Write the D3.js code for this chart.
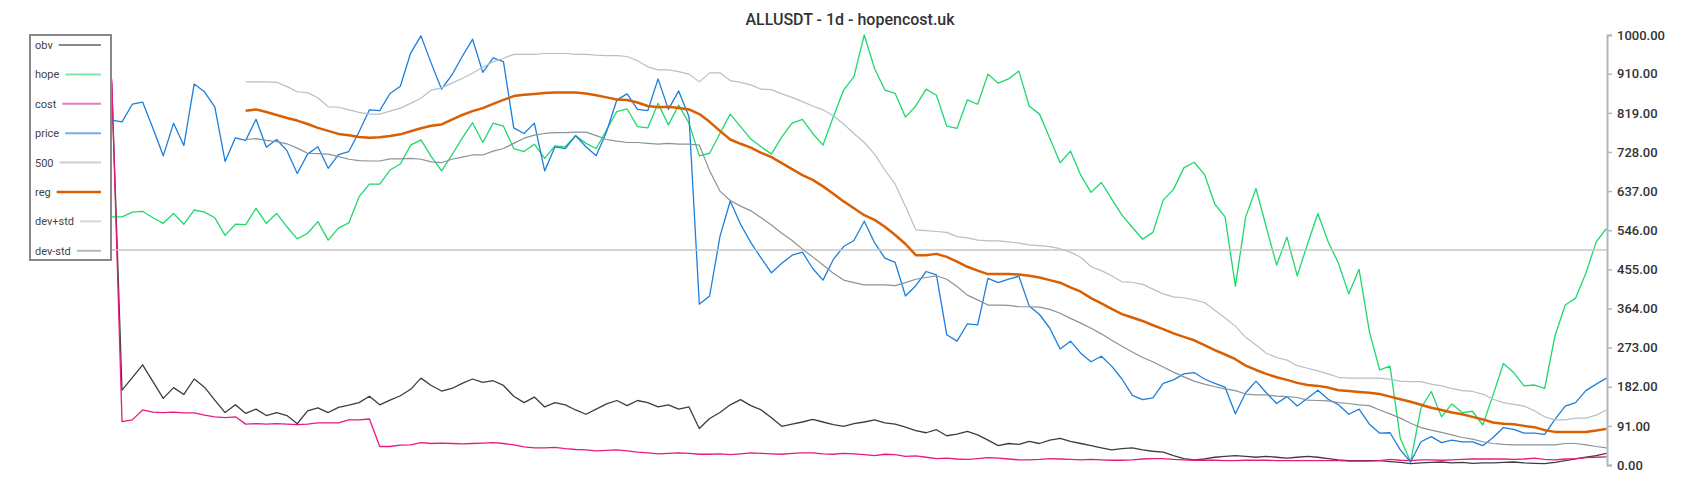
<!DOCTYPE html>
<html>
<head>
<meta charset="utf-8">
<script src="https://cdn.jsdelivr.net/npm/d3@7"></script>
<style>
  body { margin: 0; background: #fff; }
  text { font-family: Roboto, "Noto Sans", sans-serif; }
</style>
</head>
<body>
<div id="chart"></div>
<script>
var width = 1700
var height = 500

// one value per day, 146 days
var obv = [890,174,203,233,194,155,180,164,200,181,151,122,140,120,130,115,122,115,96,126,
  133,122,134,139,145,160,140,151,161,176,202,185,172,178,190,200,192,196,185,160,
  145,158,135,145,140,128,118,130,142,150,138,150,145,135,140,130,135,85,108,122,
  140,152,138,128,110,90,95,100,106,100,94,90,96,100,105,98,95,88,80,75,
  82,68,72,78,70,58,45,50,48,55,50,58,62,55,50,45,40,35,38,40,
  35,32,30,22,15,12,14,18,20,22,20,18,20,18,16,18,20,18,15,12,
  10,10,10,10,8,6,3,5,6,7,5,6,4,5,5,6,7,5,4,3,
  6,10,14,18,22,27]

var hope = [577,577,588,590,575,562,585,560,593,588,575,534,560,559,597,562,585,554,526,539,
  566,523,551,563,624,653,653,686,700,744,756,717,684,721,760,796,750,795,788,736,
  729,746,713,742,740,766,748,736,779,822,828,787,784,841,791,837,795,719,725,771,
  816,787,758,740,723,763,795,804,771,744,810,872,903,1000,922,872,864,809,835,874,
  860,788,783,849,839,909,888,898,916,835,816,760,703,730,674,634,657,619,581,553,
  525,541,616,641,691,704,676,607,577,416,577,643,553,465,530,440,514,585,519,469,
  398,455,310,221,230,62,7,132,171,112,142,122,125,93,163,236,215,184,186,178,
  300,372,388,446,519,550]

var cost = [897,101,105,128,123,122,123,121,121,116,112,110,112,95,96,95,96,95,94,95,
  98,98,98,105,105,107,43,43,46,47,52,50,51,50,49,50,51,52,50,47,
  42,40,40,41,38,36,35,33,34,35,33,30,28,26,27,28,27,25,25,26,
  24,26,28,27,26,25,27,28,28,26,25,27,26,24,22,25,24,20,21,18,
  15,16,14,13,15,17,16,14,12,12,13,15,14,13,12,13,12,11,11,12,
  14,15,15,13,12,11,11,11,10,10,11,11,11,10,10,10,10,10,10,10,
  9,9,9,10,13,11,10,12,12,11,12,13,14,14,14,14,13,14,16,13,
  12,14,15,17,18,19]

var price = [802,798,839,844,783,719,795,743,886,868,833,706,761,755,804,739,757,731,678,723,
  740,690,722,729,775,826,824,864,881,958,998,934,874,907,950,990,913,947,938,784,
  771,795,684,740,736,766,740,719,775,849,863,827,824,898,827,870,810,374,393,531,
  614,560,517,481,447,469,488,495,457,430,478,508,522,567,517,481,471,393,417,450,
  442,303,288,328,326,434,424,432,439,370,350,318,270,288,260,240,253,230,200,162,
  152,156,190,198,212,215,200,190,181,119,168,195,168,143,159,137,155,174,153,140,
  118,130,95,74,75,35,7,54,66,52,58,54,54,45,64,87,83,74,74,71,
  106,137,145,173,188,202]

var level500 = 500

var reg = [null,null,null,null,null,null,null,null,null,null,null,null,null,
  824,827,821,814,807,801,793,784,777,770,767,763,761,762,765,769,776,783,789,792,803,814,
  823,830,840,849,858,861,863,865,866,866,866,864,860,855,850,849,843,835,832,833,
  830,827,816,798,777,757,747,738,726,716,702,688,674,663,648,631,613,597,581,570,
  554,535,514,488,488,491,484,473,461,452,444,444,444,443,440,436,430,424,413,403,
  388,376,363,351,343,335,325,316,306,298,290,279,267,257,246,231,221,212,204,198,
  191,186,184,180,174,172,170,168,165,159,153,147,140,133,128,122,118,112,106,99,
  96,95,91,88,81,77,77,77,77,80,84]

var devPlus = [null,null,null,null,null,null,null,null,null,null,null,null,null,
  891,891,891,890,880,868,866,854,833,832,826,820,816,816,823,830,841,853,872,877,888,899,
  911,925,938,946,955,955,955,957,957,957,955,955,953,952,952,950,940,926,919,919,
  915,909,891,912,912,894,890,884,874,873,863,855,845,835,826,812,793,771,750,723,
  686,653,601,547,545,543,541,531,528,523,521,521,519,516,512,510,508,503,495,483,
  461,452,440,426,425,420,409,398,391,389,384,378,360,342,323,297,279,260,250,244,
  231,225,219,212,204,202,202,202,202,199,195,194,194,188,184,178,173,171,165,153,
  145,141,137,126,112,105,105,109,109,116,128]

var devMinus = [null,null,null,null,null,null,null,null,null,null,null,null,null,
  757,759,755,752,747,737,725,724,723,717,711,708,707,707,712,712,713,711,705,703,711,716,
  721,721,730,736,748,760,767,771,773,773,774,774,766,757,753,750,750,748,746,748,
  746,746,744,684,637,615,602,591,575,558,539,522,502,484,465,446,430,424,419,419,
  419,417,424,432,436,440,432,415,395,384,372,372,371,368,368,367,362,353,341,330,
  318,305,290,276,263,250,240,228,216,205,195,188,182,177,173,165,163,163,160,159,
  157,151,150,149,145,143,140,138,128,119,109,97,87,81,76,70,64,60,54,50,
  48,47,47,47,47,47,50,50,47,43,40]

var yTicks = [0,91,182,273,364,455,546,637,728,819,910,1000]

var series = [
  {name: "obv",     values: obv,      color: "#3d3d3d", key: "#8a8a8a", w: 1.3},
  {name: "hope",    values: hope,     color: "#1fd86c", key: "#7fe8a8", w: 1.3},
  {name: "cost",    values: cost,     color: "#e8197f", key: "#ef7bbb", w: 1.3},
  {name: "price",   values: price,    color: "#1b7fdc", key: "#6fb0ea", w: 1.3},
  {name: "500",     values: obv.map(function(){ return level500 }), color: "#c6c6c6", key: "#cfcfcf", w: 1.5},
  {name: "reg",     values: reg,      color: "#d95f02", key: "#d95f02", w: 2.5},
  {name: "dev+std", values: devPlus,  color: "#b9bfc5", key: "#d3d7db", w: 1.2},
  {name: "dev-std", values: devMinus, color: "#89939b", key: "#b3b9bf", w: 1.2}
]

var svg = d3.select("#chart")
  .append("svg")
    .attr("width", width)
    .attr("height", height)

var x = d3.scaleLinear()
    .domain([0, obv.length - 1])
    .range([111.7, 1606.5])

var y = d3.scaleLinear()
    .domain([0, 1000])
    .range([465, 35])

var line = d3.line()
    .defined(function(d){ return d != null })
    .x(function(d, i){ return x(i) })
    .y(function(d){ return y(d) })

svg.append("g")
  .selectAll("path")
  .data(series)
  .enter()
  .append("path")
    .attr("fill", "none")
    .attr("stroke", function(d){ return d.color })
    .attr("stroke-width", function(d){ return d.w })
    .attr("stroke-linejoin", "round")
    .attr("d", function(d){ return line(d.values) })

// right axis
var axis = svg.append("g")
  .attr("transform", "translate(1607,0)")
  .call(d3.axisRight(y)
    .tickValues(yTicks)
    .tickSize(5)
    .tickPadding(5)
    .tickFormat(function(d){ return d.toFixed(2) }))

axis.select(".domain").attr("stroke", "#b0b8bf").attr("stroke-width", 2)
axis.selectAll(".tick line").attr("stroke", "#b0b8bf").attr("stroke-width", 1.5)
axis.selectAll(".tick text")
    .attr("fill", "#333")
    .style("font-size", "13px")
    .style("font-family", "Roboto, sans-serif")
    .style("font-weight", "500")

// title
svg.append("text")
  .attr("x", 850)
  .attr("y", 25)
  .attr("text-anchor", "middle")
  .attr("fill", "#333")
  .style("font-size", "16px")
  .style("font-weight", "500")
  .text("ALLUSDT - 1d - hopencost.uk")

// legend
var legend = svg.append("g")

legend.append("rect")
  .attr("x", 30)
  .attr("y", 35)
  .attr("width", 81)
  .attr("height", 225)
  .attr("fill", "#fff")
  .attr("stroke", "#888")
  .attr("stroke-width", 2)

var item = legend.selectAll("g.item")
  .data(series)
  .enter()
  .append("g")
    .attr("class", "item")
    .attr("transform", function(d, i){ return "translate(0," + (45 + i * 29.4) + ")" })

item.append("text")
  .attr("x", 35)
  .attr("y", 4)
  .attr("fill", "#444")
  .style("font-size", "11px")
  .text(function(d){ return d.name })

item.each(function(d){
  var g = d3.select(this)
  var tw = g.select("text").node().getComputedTextLength()
  g.append("line")
    .attr("x1", 35 + tw + 6)
    .attr("x2", 101)
    .attr("y1", 0)
    .attr("y2", 0)
    .attr("stroke", d.key)
    .attr("stroke-width", d.name == "reg" ? 2.5 : 2)
})
</script>
</body>
</html>
